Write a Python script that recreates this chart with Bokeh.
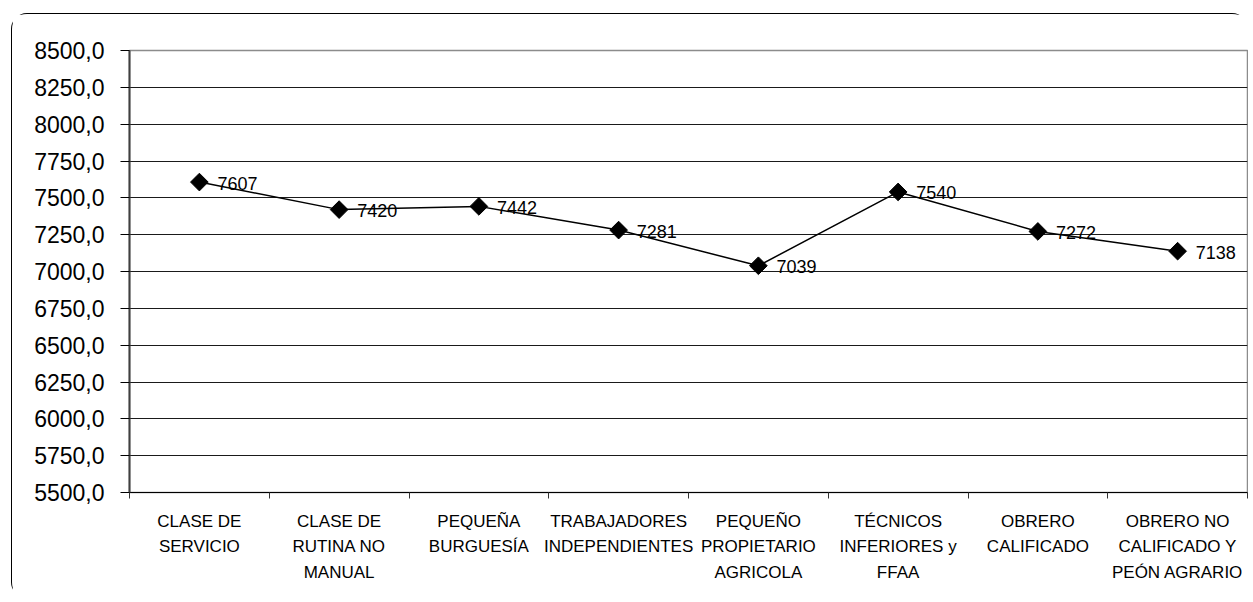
from bokeh.plotting import figure
from bokeh.models import FixedTicker, ColumnDataSource, Range1d
from bokeh.core.properties import value
from bokeh.embed import file_html
from bokeh.resources import INLINE

categories = [
    "CLASE DE\nSERVICIO",
    "CLASE DE\nRUTINA NO\nMANUAL",
    "PEQUEÑA\nBURGUESÍA",
    "TRABAJADORES\nINDEPENDIENTES",
    "PEQUEÑO\nPROPIETARIO\nAGRICOLA",
    "TÉCNICOS\nINFERIORES y\nFFAA",
    "OBRERO\nCALIFICADO",
    "OBRERO NO\nCALIFICADO Y\nPEÓN AGRARIO",
]
values = [7607, 7420, 7442, 7281, 7039, 7540, 7272, 7138]
y_ticks = list(range(5500, 8501, 250))
y_labels = [f"{t},0" for t in y_ticks]

n = len(categories)
xs = [i + 0.5 for i in range(n)]
boundaries = list(range(n + 1))

src = ColumnDataSource(dict(x=xs, y=values, lbl=[str(v) for v in values]))

FONT = "Liberation Sans"

p = figure(width=1237, height=585,
           x_range=Range1d(0, n), y_range=Range1d(y_ticks[0], y_ticks[-1]),
           output_backend="svg", toolbar_location=None,
           min_border_left=117, min_border_top=36, min_border_bottom=107, min_border_right=2)

p.margin = (13, 0, 0, 11)
p.styles = {
    "border-left": "1.5px solid black",
    "border-top": "1.5px solid black",
    "border-top-left-radius": "16px",
    "border-top-right-radius": "16px",
    "border-bottom-left-radius": "16px",
}

p.background_fill_color = "white"
p.border_fill_color = "white"
p.outline_line_color = "#8c8c8c"
p.outline_line_width = 1.5

# x axis
p.xaxis.ticker = FixedTicker(ticks=xs, minor_ticks=boundaries)
p.xaxis.major_label_overrides = {x: c for x, c in zip(xs, categories)}
p.xaxis.major_tick_line_color = None
p.xaxis.major_tick_out = 0
p.xaxis.major_tick_in = 0
p.xaxis.minor_tick_out = 6
p.xaxis.minor_tick_in = 0
p.xaxis.minor_tick_line_color = "#333333"
p.xaxis.axis_line_color = "black"
p.xaxis.axis_line_width = 1
p.xaxis.major_label_text_font = FONT
p.xaxis.major_label_text_font_size = "17px"
p.xaxis.major_label_text_color = "black"
p.xaxis.major_label_text_line_height = 1.36
p.xaxis.major_label_standoff = 13
p.xaxis.major_label_orientation = "horizontal"

# y axis
yt = FixedTicker(ticks=y_ticks)
p.yaxis.ticker = yt
p.yaxis.major_label_overrides = {t: l for t, l in zip(y_ticks, y_labels)}
p.yaxis.major_tick_out = 9
p.yaxis.major_tick_in = 0
p.yaxis.major_tick_line_color = "black"
p.yaxis.minor_tick_line_color = None
p.yaxis.axis_line_color = "#404040"
p.yaxis.axis_line_width = 2
p.yaxis.major_label_text_font = FONT
p.yaxis.major_label_text_font_size = "23px"
p.yaxis.major_label_text_color = "black"
p.yaxis.major_label_standoff = 16

p.xgrid.visible = False
p.ygrid.ticker = yt
p.ygrid.grid_line_color = "#1a1a1a"
p.ygrid.grid_line_width = 1

p.line("x", "y", source=src, line_color="black", line_width=1.5)
p.scatter("x", "y", source=src, marker="square", angle=0.785398, size=12.5,
          fill_color="black", line_color="black")
p.text("x", "y", text="lbl", source=src, x_offset=18, y_offset=1,
       text_baseline="middle", text_align="left",
       text_font=value(FONT), text_font_size="18px", text_color="black")

open("out.html", "w").write(file_html(p, INLINE))
